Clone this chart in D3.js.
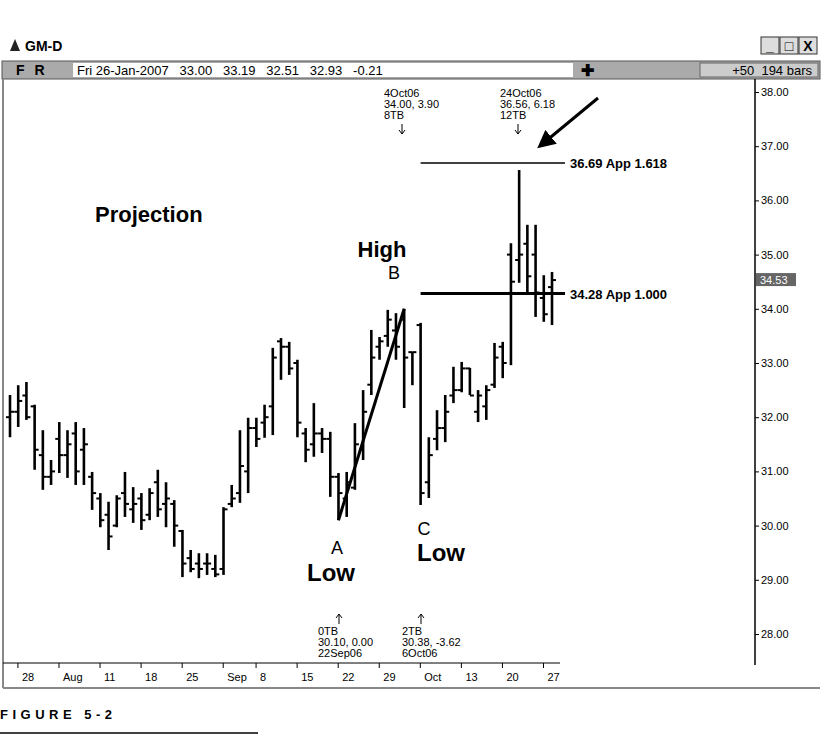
<!DOCTYPE html>
<html><head><meta charset="utf-8">
<script src="https://cdn.jsdelivr.net/npm/d3@7"></script>
<style>body{margin:0;background:#fff}svg text{font-family:"Liberation Sans",Arial,sans-serif}</style>
</head><body><svg id="c" width="822" height="748"></svg>
<script>
const highs=[32.41,32.59,32.65,32.23,31.76,31.21,31.91,31.76,31.91,31.80,30.99,30.60,30.44,30.56,30.99,30.71,30.60,30.69,31.03,30.80,30.47,29.92,29.55,29.49,29.49,29.46,30.34,30.75,31.76,31.99,31.99,32.23,33.28,33.46,33.39,33.06,31.80,32.26,31.80,31.73,30.97,30.99,31.89,32.50,33.61,33.48,33.98,33.92,34.00,33.20,33.74,31.63,32.13,32.41,32.93,33.02,32.91,32.50,32.59,33.37,33.39,35.21,36.56,35.55,35.55,34.62,34.68];
const lows=[31.63,31.82,31.95,31.03,30.66,30.75,30.97,30.88,30.75,30.75,30.29,29.97,29.55,29.97,30.16,30.05,29.92,30.10,30.16,29.97,29.61,29.05,29.14,29.03,29.09,29.05,29.09,30.34,30.42,30.60,31.45,31.62,31.67,32.69,32.78,31.63,31.17,31.27,31.34,30.53,30.10,30.16,30.66,31.21,32.41,33.06,33.30,33.06,32.17,32.59,30.38,30.51,31.39,31.54,32.26,32.46,32.41,31.91,31.95,32.54,32.72,32.96,34.48,34.29,33.85,33.76,33.70];
const opens=[32.0,32.1,32.4,32.2,31.3,30.9,31.6,31.3,31.7,31.4,30.9,30.5,30.2,30.0,30.6,30.3,30.5,30.2,30.8,30.4,30.4,29.9,29.4,29.3,29.3,29.2,29.2,30.4,30.6,31.0,31.8,31.9,32.2,33.4,33.3,33.0,31.7,31.5,31.7,31.6,30.9,30.5,30.7,31.4,32.6,33.3,33.5,33.6,33.8,33.2,33.7,30.8,31.6,31.8,32.4,32.5,32.9,32.1,32.2,32.6,33.3,35.0,34.9,35.2,35.0,34.2,34.4];
const closes=[32.1,32.3,32.0,31.4,30.9,31.0,31.3,31.5,31.0,31.5,30.6,30.1,29.8,30.5,30.4,30.4,30.1,30.6,30.3,30.5,30.0,29.3,29.2,29.2,29.3,29.1,30.3,30.5,31.1,31.8,31.6,32.0,33.1,33.3,32.9,31.9,31.4,31.7,31.6,30.9,30.6,30.8,31.5,32.1,33.1,33.4,33.8,33.3,33.1,33.2,30.6,31.3,31.8,32.1,32.5,32.9,32.4,32.4,32.5,33.1,33.0,34.5,35.0,34.6,34.3,33.9,34.53];
const tickIdx=[2,7,12,17,22,27,31,36,41,46,51,56,61,66];
const tickLabels=["28","Aug","11","18","25","Sep","8","15","22","29","Oct","13","20","27"];
const yTicks=[28,29,30,31,32,33,34,35,36,37,38];

const svg=d3.select("#c");
const x=d3.scaleLinear().domain([0,66]).range([10,552]);
const y=d3.scaleLinear().domain([28,38]).range([634,92]);

// window chrome
svg.append("path").attr("d","M10 51 L15 39 L20 51 Z").attr("fill","#222");
svg.append("text").attr("x",25).attr("y",51).attr("font-size",14).attr("font-weight","bold").text("GM-D");
[[761,"_"],[780,"□"],[799,"X"]].forEach(([bx,t])=>{
  svg.append("rect").attr("x",bx).attr("y",37).attr("width",18).attr("height",17).attr("fill","#ddd").attr("stroke","#333");
  svg.append("text").attr("x",bx+9).attr("y",51).attr("text-anchor","middle").attr("font-size",14).attr("font-weight","bold").text(t);
});
svg.append("rect").attr("x",2).attr("y",61).attr("width",818).attr("height",18).attr("fill","#aaa").attr("stroke","#555");
svg.append("text").attr("x",16).attr("y",75).attr("font-size",14).attr("font-weight","bold").attr("letter-spacing","3").text("F R");
svg.append("rect").attr("x",73).attr("y",63).attr("width",500).attr("height",14).attr("fill","#fff");
svg.append("text").attr("x",77).attr("y",75).attr("font-size",13).attr("xml:space","preserve").style("white-space","pre").text("Fri 26-Jan-2007   33.00   33.19   32.51   32.93   -0.21");
svg.append("text").attr("x",587).attr("y",76).attr("text-anchor","middle").attr("font-size",16).attr("font-weight","bold").text("✚");
svg.append("rect").attr("x",700).attr("y",63).attr("width",118).attr("height",14).attr("fill","#ccc").attr("stroke","#666");
svg.append("text").attr("x",812).attr("y",75).attr("text-anchor","end").attr("font-size",13).style("white-space","pre").text("+50  194 bars");

// frame
svg.append("line").attr("x1",3).attr("x2",3).attr("y1",79).attr("y2",688).attr("stroke","#888").attr("stroke-width",2);
svg.append("line").attr("x1",755).attr("x2",755).attr("y1",79).attr("y2",665).attr("stroke","#000").attr("stroke-width",1.5);
svg.append("line").attr("x1",3).attr("x2",560).attr("y1",663).attr("y2",663).attr("stroke","#000");
svg.append("line").attr("x1",3).attr("x2",820).attr("y1",688).attr("y2",688).attr("stroke","#888").attr("stroke-width",2);

// right axis
const ya=svg.append("g").attr("transform","translate(755,0)").call(d3.axisRight(y).tickValues(yTicks).tickFormat(d3.format(".2f")).tickSize(4));
ya.select(".domain").remove();
ya.selectAll("text").attr("font-size",11).attr("font-family","Liberation Sans, Arial").attr("x",6);
svg.append("rect").attr("x",756).attr("y",y(34.53)-7).attr("width",40).attr("height",13).attr("fill","#666");
svg.append("text").attr("x",760).attr("y",y(34.53)+4).attr("font-size",11).attr("fill","#fff").text("34.53");

// bottom axis
const xa=svg.append("g").attr("transform","translate(-9,663)").call(d3.axisBottom(x).tickValues(tickIdx).tickFormat((d,i)=>tickLabels[i]).tickSize(5));
xa.select(".domain").remove();
xa.selectAll("text").attr("font-size",11).attr("font-family","Liberation Sans, Arial").attr("text-anchor","start").attr("x",4).attr("dy","0.9em");

// bars
const g=svg.append("g").attr("stroke","#000").attr("stroke-width",2.6);
highs.forEach((h,i)=>{
  const cx=x(i);
  g.append("line").attr("x1",cx).attr("x2",cx).attr("y1",y(h)).attr("y2",y(lows[i]));
  g.append("line").attr("x1",cx-4).attr("x2",cx).attr("y1",y(opens[i])).attr("y2",y(opens[i])).attr("stroke-width",2);
  g.append("line").attr("x1",cx).attr("x2",cx+4).attr("y1",y(closes[i])).attr("y2",y(closes[i])).attr("stroke-width",2);
});

// AB line
svg.append("line").attr("x1",x(40)).attr("y1",y(30.10)).attr("x2",x(48)).attr("y2",y(34.00)).attr("stroke","#000").attr("stroke-width",3);
// projection lines
svg.append("line").attr("x1",x(50)).attr("x2",565).attr("y1",y(36.69)).attr("y2",y(36.69)).attr("stroke","#000").attr("stroke-width",1.5);
svg.append("line").attr("x1",x(50)).attr("x2",565).attr("y1",y(34.28)).attr("y2",y(34.28)).attr("stroke","#000").attr("stroke-width",3);
svg.append("text").attr("x",570).attr("y",y(36.69)+5).attr("font-size",13).attr("font-weight","bold").attr("font-family","DejaVu Sans").text("36.69 App 1.618");
svg.append("text").attr("x",570).attr("y",y(34.28)+5).attr("font-size",13).attr("font-weight","bold").attr("font-family","DejaVu Sans").text("34.28 App 1.000");
// arrow
svg.append("defs").append("marker").attr("id","ah").attr("viewBox","0 0 10 10").attr("refX",8).attr("refY",5).attr("markerWidth",6).attr("markerHeight",6).attr("orient","auto").append("path").attr("d","M0 0 L10 5 L0 10 Z").attr("fill","#000");
svg.append("line").attr("x1",598).attr("y1",98).attr("x2",540).attr("y2",146).attr("stroke","#000").attr("stroke-width",3).attr("marker-end","url(#ah)");

// small arrows
const sArrow=(ax,y1,y2)=>{
  svg.append("line").attr("x1",ax).attr("x2",ax).attr("y1",y1).attr("y2",y2).attr("stroke","#000");
  const d=y2>y1?-4:4;
  svg.append("path").attr("d",`M${ax-3},${y2+d} L${ax},${y2} L${ax+3},${y2+d}`).attr("fill","none").attr("stroke","#000");
};
sArrow(402,124,134); sArrow(518,124,134); sArrow(339,624,614); sArrow(421,624,614);

// labels
const T=(t,xx,yy,s,b,a)=>svg.append("text").attr("x",xx).attr("y",yy).attr("font-size",s).attr("font-weight",b?"bold":"normal").attr("text-anchor",a||"start").text(t);
T("Projection",95,222,22,true);
T("High",382,257,22,true,"middle");
T("B",394,279,18,false,"middle");
T("A",337,554,18,false,"middle");
T("Low",331,581,24,true,"middle");
T("C",424,535,18,false,"middle");
T("Low",441,561,24,true,"middle");
["4Oct06","34.00, 3.90","8TB"].forEach((t,i)=>T(t,384,97+i*11,11));
["24Oct06","36.56, 6.18","12TB"].forEach((t,i)=>T(t,500,97+i*11,11));
["0TB","30.10, 0.00","22Sep06"].forEach((t,i)=>T(t,318,635+i*11,11));
["2TB","30.38, -3.62","6Oct06"].forEach((t,i)=>T(t,402,635+i*11,11));

// figure caption
svg.append("text").attr("x",0).attr("y",719).attr("font-size",13).attr("font-weight","bold").attr("letter-spacing","4.5").text("FIGURE 5-2");
svg.append("line").attr("x1",0).attr("x2",258).attr("y1",733).attr("y2",733).attr("stroke","#000").attr("stroke-width",1.5);
</script></body></html>
